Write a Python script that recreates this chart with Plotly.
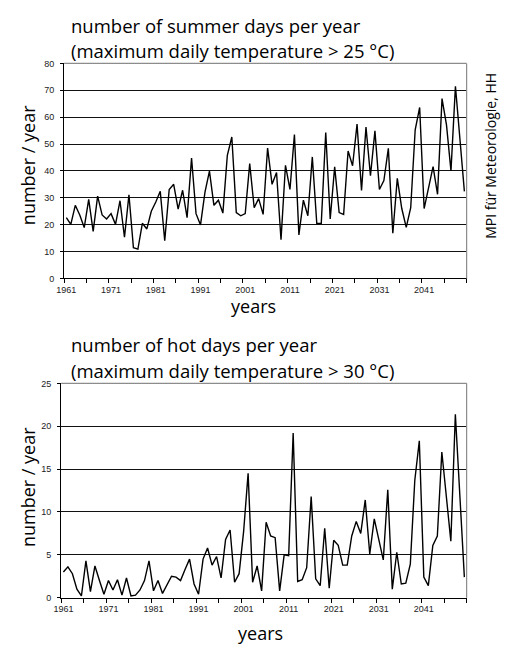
import plotly.graph_objects as go

years = list(range(1961, 2051))

summer_days = [
    22.6, 20.1, 27.2, 23.6, 18.9, 29.4, 17.5, 30.6, 23.6, 22.1,   # 1961-1970
    24.1, 20.1, 28.9, 15.3, 31.1, 11.4, 10.9, 20.5, 18.4, 25.0,   # 1971-1980
    28.4, 32.4, 14.0, 33.1, 35.0, 25.8, 32.8, 22.6, 44.8, 24.1,   # 1981-1990
    19.9, 32.1, 39.9, 27.2, 29.1, 24.3, 45.8, 52.6, 24.5, 23.3,   # 1991-2000
    24.1, 42.7, 26.3, 29.7, 23.8, 48.5, 35.0, 39.4, 14.4, 42.1,   # 2001-2010
    33.1, 53.5, 16.2, 29.1, 23.3, 45.2, 20.4, 20.5, 54.3, 22.1,   # 2011-2020
    41.5, 24.5, 23.8, 47.4, 41.9, 57.4, 32.7, 56.3, 38.2, 54.9,   # 2021-2030
    33.1, 36.4, 48.4, 16.8, 37.2, 26.0, 19.0, 26.3, 55.3, 63.6,   # 2031-2040
    26.0, 34.3, 41.6, 31.3, 66.9, 57.1, 40.0, 71.5, 51.6, 32.4,   # 2041-2050
]

hot_days = [
    3.0, 3.6, 2.8, 1.0, 0.2, 4.3, 0.7, 3.7, 2.0, 0.4,        # 1961-1970
    2.0, 0.9, 2.1, 0.3, 2.3, 0.2, 0.3, 0.9, 2.0, 4.3,        # 1971-1980
    0.8, 2.0, 0.5, 1.5, 2.5, 2.4, 2.0, 3.3, 4.5, 1.6,        # 1981-1990
    0.4, 4.5, 5.8, 3.8, 4.8, 2.3, 6.8, 7.9, 1.8, 2.8,        # 1991-2000
    7.7, 14.5, 1.8, 3.7, 0.8, 8.8, 7.2, 7.0, 0.8, 5.0,       # 2001-2010
    4.9, 19.2, 1.9, 2.1, 3.5, 11.8, 2.2, 1.4, 8.1, 1.1,      # 2011-2020
    6.7, 6.1, 3.8, 3.8, 7.2, 8.9, 7.5, 11.4, 5.1, 9.2,       # 2021-2030
    6.8, 4.4, 12.6, 1.0, 5.3, 1.6, 1.7, 3.9, 13.7, 18.3,     # 2031-2040
    2.4, 1.4, 6.1, 7.2, 17.0, 11.4, 6.6, 21.4, 12.0, 2.4,    # 2041-2050
]

x_tick_years = [1961, 1971, 1981, 1991, 2001, 2011, 2021, 2031, 2041]
x_tick_labels = [str(y) for y in x_tick_years]

top_title = ["number of summer days per year", "(maximum daily temperature > 25 °C)"]
bottom_title = ["number of hot days per year", "(maximum daily temperature > 30 °C)"]
y_title = "number / year"
x_title = "years"
credit = "MPI für Meteorologie, HH"

W, H = 505, 647


def px(x):
    return x / W


def py(y):
    return 1 - y / H


TEXT_FONT = "Open Sans, DejaVu Sans, sans-serif"
TICK_FONT = dict(family="Liberation Sans, Arial, sans-serif", size=9, color="#222222")

fig = go.Figure()
fig.add_trace(go.Scatter(x=years, y=summer_days, mode="lines",
                         line=dict(color="black", width=1.4),
                         xaxis="x", yaxis="y", showlegend=False, hoverinfo="skip"))
fig.add_trace(go.Scatter(x=years, y=hot_days, mode="lines",
                         line=dict(color="black", width=1.4),
                         xaxis="x2", yaxis="y2", showlegend=False, hoverinfo="skip"))

xaxis_common = dict(
    range=[1960.5, 2050.5],
    tickmode="array", tickvals=x_tick_years, ticktext=x_tick_labels,
    ticks="", showgrid=False, zeroline=False,
    showline=True, linecolor="black", linewidth=1,
    tickfont=TICK_FONT, ticklabelstandoff=3,
    minor=dict(ticks="outside", tick0=1960.5, dtick=5, ticklen=4,
               tickcolor="black", tickwidth=1, showgrid=False),
    fixedrange=True,
)
yaxis_common = dict(
    showgrid=True, gridcolor="#111111", gridwidth=1,
    zeroline=False, showline=True, linecolor="black", linewidth=1,
    ticks="outside", ticklen=3, tickcolor="black",
    tickfont=TICK_FONT, ticklabelstandoff=4,
    fixedrange=True,
)

fig.update_layout(
    width=W, height=H, autosize=False,
    margin=dict(l=0, r=0, t=0, b=0),
    paper_bgcolor="white", plot_bgcolor="white",
    xaxis=dict(domain=[px(57), px(466)], anchor="y", **xaxis_common),
    yaxis=dict(domain=[py(277.7), py(59.3)], anchor="x",
               range=[0, 80], dtick=10, **yaxis_common),
    xaxis2=dict(domain=[px(54), px(466)], anchor="y2", **xaxis_common),
    yaxis2=dict(domain=[py(602), py(384.3)], anchor="x2",
                range=[0, 25], dtick=5, **yaxis_common),
)

# grey top and right frame lines of each plot area
for xr, yr in (("x", "y"), ("x2", "y2")):
    fig.add_shape(type="line", xref=f"{xr} domain", yref=f"{yr} domain",
                  x0=0, x1=1, y0=1, y1=1, line=dict(color="#8c8c8c", width=1.2), layer="above")
    fig.add_shape(type="line", xref=f"{xr} domain", yref=f"{yr} domain",
                  x0=1, x1=1, y0=0, y1=1, line=dict(color="#8c8c8c", width=1.2), layer="above")

ann = []
title_font = dict(family=TEXT_FONT, size=18.5, color="black")
for text, yc in ((top_title[0], 21), (top_title[1], 46), (bottom_title[0], 345), (bottom_title[1], 371)):
    ann.append(dict(text=text, x=px(62), y=py(yc), xref="paper", yref="paper",
                    xanchor="left", yanchor="middle", showarrow=False, font=title_font))

axis_font = dict(family=TEXT_FONT, size=18, color="black")
for xc, yc in ((249, 306), (257, 638)):
    ann.append(dict(text=x_title, x=px(xc), y=py(yc), xref="paper", yref="paper",
                    xanchor="center", yanchor="middle", showarrow=False, font=axis_font))
for yc in (163, 490):
    ann.append(dict(text=y_title, x=px(21), y=py(yc), xref="paper", yref="paper",
                    xanchor="center", yanchor="middle", showarrow=False, font=axis_font,
                    textangle=-90))
ann.append(dict(text=credit, x=px(490), y=py(153), xref="paper", yref="paper",
                xanchor="center", yanchor="middle", showarrow=False,
                font=dict(family=TEXT_FONT, size=14, color="black"), textangle=-90))

fig.update_layout(annotations=ann)

fig.write_html("out.html")
